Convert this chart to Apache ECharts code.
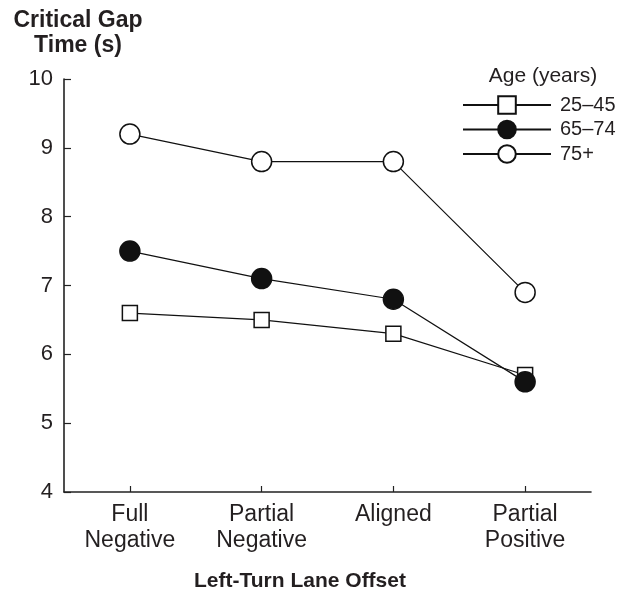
<!DOCTYPE html>
<html>
<head>
<meta charset="utf-8">
<script src="https://cdn.jsdelivr.net/npm/echarts@6/dist/echarts.min.js"></script>
<style>
html,body{margin:0;padding:0;background:#fff;}
#chart{width:621px;height:594px;}
</style>
</head>
<body>
<div id="chart"></div>
<script>
const categories = ['Full\nNegative', 'Partial\nNegative', 'Aligned', 'Partial\nPositive'];
const seriesNames = ['25–45', '65–74', '75+'];
const age25to45 = [6.6, 6.5, 6.3, 5.7];
const age65to74 = [7.5, 7.1, 6.8, 5.6];
const age75plus = [9.2, 8.8, 8.8, 6.9];
const yTicks = [4, 5, 6, 7, 8, 9, 10];

const FONT = 'Liberation Sans, Arial, Helvetica, sans-serif';
const INK = '#231f20';

const chart = echarts.init(document.getElementById('chart'), null, {renderer: 'canvas'});

function lineSeries(name, data, symbol, size, fill) {
  return {
    name: name,
    type: 'line',
    data: data,
    symbol: symbol,
    symbolSize: size,
    showAllSymbol: true,
    lineStyle: {color: '#111', width: 1.2},
    itemStyle: {color: fill, borderColor: '#111', borderWidth: 1.5},
    emphasis: {disabled: true},
    z: 3
  };
}

chart.setOption({
  animation: false,
  backgroundColor: '#fff',
  grid: {left: 64, right: 30, top: 79, bottom: 102, containLabel: false},
  legend: {
    orient: 'vertical',
    left: 462,
    top: 95,
    padding: 0,
    itemWidth: 88,
    itemHeight: 22,
    itemGap: 4.5,
    selectedMode: false,
    data: seriesNames,
    textStyle: {fontFamily: FONT, fontSize: 20, color: INK, padding: [0, 0, 0, 4]}
  },
  graphic: [
    {type: 'text', x: 78, y: 8, style: {text: 'Critical Gap\nTime (s)', font: 'bold 23px ' + FONT, fill: INK, align: 'center', verticalAlign: 'top', lineHeight: 25}},
    {type: 'text', x: 543, y: 66, style: {text: 'Age (years)', font: '21px ' + FONT, fill: INK, align: 'center', verticalAlign: 'top'}},
    {type: 'text', x: 300, y: 571, style: {text: 'Left-Turn Lane Offset', font: 'bold 21px ' + FONT, fill: INK, align: 'center', verticalAlign: 'top'}}
  ],
  xAxis: {
    type: 'category',
    data: categories,
    boundaryGap: true,
    axisLine: {show: true, lineStyle: {color: '#222', width: 1.6}},
    axisTick: {show: true, inside: true, alignWithLabel: true, length: 6, lineStyle: {color: '#222', width: 1.2}},
    axisLabel: {fontFamily: FONT, fontSize: 23, color: INK, margin: 10, lineHeight: 26},
    splitLine: {show: false}
  },
  yAxis: {
    type: 'value',
    min: 4,
    max: 10,
    interval: 1,
    axisLine: {show: true, lineStyle: {color: '#222', width: 1.6}},
    axisTick: {show: true, inside: true, length: 7, lineStyle: {color: '#222', width: 1.2}},
    axisLabel: {fontFamily: FONT, fontSize: 22, color: INK, margin: 11,
      formatter: function (v) { return yTicks.indexOf(v) >= 0 ? String(v) : ''; }},
    splitLine: {show: false}
  },
  series: [
    lineSeries(seriesNames[0], age25to45, 'rect', 15, '#fff'),
    lineSeries(seriesNames[1], age65to74, 'circle', 20, '#111'),
    lineSeries(seriesNames[2], age75plus, 'circle', 20, '#fff')
  ]
});
</script>
</body>
</html>
